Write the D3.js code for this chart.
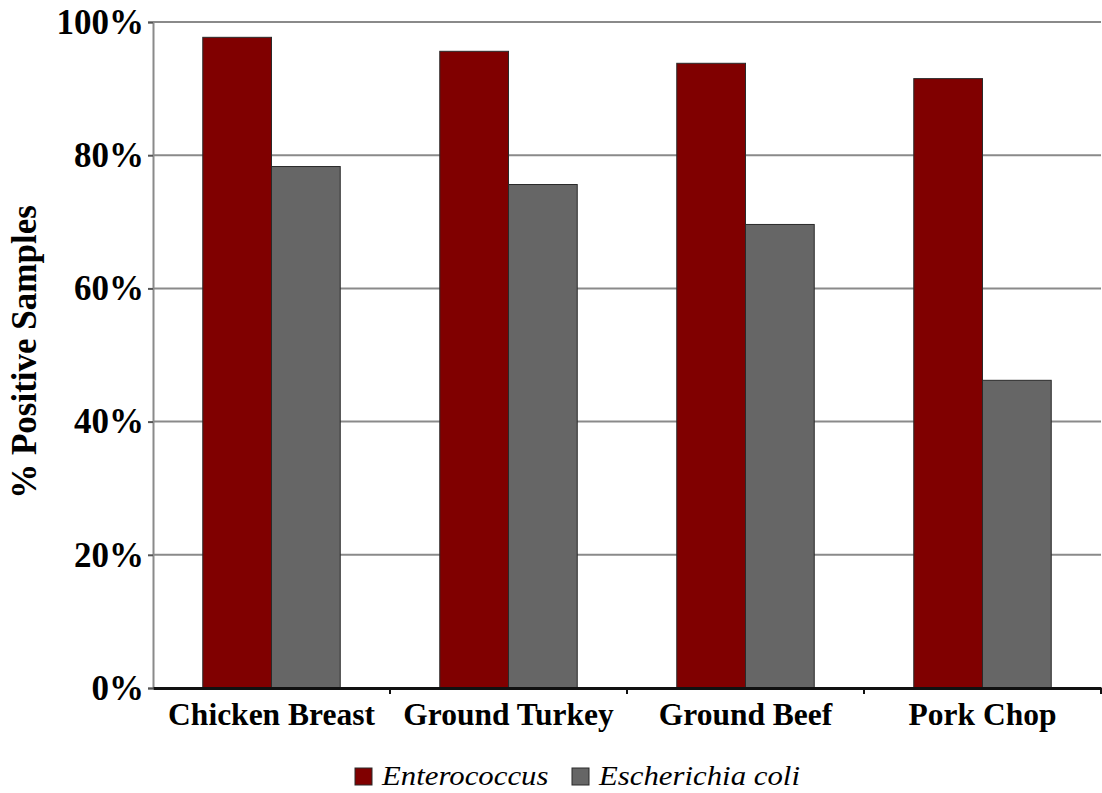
<!DOCTYPE html>
<html>
<head>
<meta charset="utf-8">
<script src="https://cdn.jsdelivr.net/npm/d3@7"></script>
<style>
  body { margin: 0; background: #fff; }
  svg { display: block; }
  text { font-family: "Liberation Serif", "Times New Roman", serif; fill: #000; }
</style>
</head>
<body>
<svg></svg>
<script>
// data
var categories = ["Chicken Breast", "Ground Turkey", "Ground Beef", "Pork Chop"]
var seriesNames = ["Enterococcus", "Escherichia coli"]
var enterococcus = [97.7, 95.6, 93.8, 91.5]
var ecoli = [78.3, 75.6, 69.6, 46.2]
var yTicks = [0, 20, 40, 60, 80, 100]
var colors = ["#800000", "#666666"]

var svg = d3.select('svg')
  .attr('width', 1102)
  .attr('height', 793)

var plotLeft = 153, plotRight = 1101, plotTop = 22, plotBottom = 688

// scales
var x = d3.scaleBand()
  .domain(categories)
  .range([plotLeft, plotRight])
  .paddingInner(0.42)
  .paddingOuter(0.21)
var x1 = d3.scaleBand()
  .domain(seriesNames)
  .range([0, x.bandwidth()])
var y = d3.scaleLinear()
  .domain([0, 100])
  .range([plotBottom, plotTop])

// gridlines
svg.append('g')
  .selectAll('line')
  .data(yTicks.filter(d => d > 0))
  .enter()
  .append('line')
  .attr('x1', plotLeft)
  .attr('x2', plotRight)
  .attr('y1', d => y(d))
  .attr('y2', d => y(d))
  .attr('stroke', '#8a8a8a')
  .attr('stroke-width', 2)

// bars
var rows = categories.map((c, i) => ({cat: c, values: [enterococcus[i], ecoli[i]]}))
svg.append('g')
  .selectAll('g')
  .data(rows)
  .enter()
  .append('g')
  .attr('transform', d => `translate(${x(d.cat)},0)`)
  .selectAll('rect')
  .data(d => d.values.map((v, j) => ({key: seriesNames[j], value: v, j: j})))
  .enter()
  .append('rect')
  .attr('x', d => x1(d.key))
  .attr('y', d => y(d.value))
  .attr('width', x1.bandwidth())
  .attr('height', d => plotBottom - y(d.value))
  .attr('fill', d => colors[d.j])
  .attr('stroke', '#2a2a2a')
  .attr('stroke-width', 1)

// y axis
var yAxis = d3.axisLeft(y)
  .tickValues(yTicks)
  .tickSize(5)
  .tickPadding(4)
  .tickFormat(d => d + '%')
var gy = svg.append('g')
  .attr('transform', `translate(${plotLeft},0)`)
  .call(yAxis)
gy.select('.domain').attr('stroke', '#8a8a8a').attr('stroke-width', 2)
gy.selectAll('.tick line').attr('stroke', '#555').attr('stroke-width', 2)
gy.selectAll('.tick text')
  .style('font-family', '"Liberation Serif", serif')
  .style('font-size', '35px')
  .style('font-weight', 'bold')
  .attr('fill', '#000')

// x axis
var xAxis = d3.axisBottom(x)
  .tickSize(0)
  .tickPadding(15)
var gx = svg.append('g')
  .attr('transform', `translate(0,${plotBottom})`)
  .call(xAxis)
gx.select('.domain').attr('stroke', '#111').attr('stroke-width', 3)
gx.selectAll('.tick text')
  .style('font-family', '"Liberation Serif", serif')
  .style('font-size', '31.5px')
  .style('font-weight', 'bold')
  .attr('fill', '#000')
  .attr('dy', '0.71em')
// category separator ticks
gx.append('g')
  .selectAll('line')
  .data(categories)
  .enter()
  .append('line')
  .attr('x1', d => x(d) + x.step() * 0.79)
  .attr('x2', d => x(d) + x.step() * 0.79)
  .attr('y1', 0)
  .attr('y2', 6)
  .attr('stroke', '#111')
  .attr('stroke-width', 2)

// y axis title
svg.append('text')
  .attr('transform', 'translate(36,352) rotate(-90)')
  .style('text-anchor', 'middle')
  .style('font-size', '35px')
  .style('font-weight', 'bold')
  .text('% Positive Samples')

// legend
var legend = svg.append('g')
  .selectAll('g')
  .data(seriesNames)
  .enter()
  .append('g')
  .attr('transform', (d, i) => `translate(${[355, 572][i]},768)`)
legend.append('rect')
  .attr('width', 17)
  .attr('height', 17)
  .attr('fill', (d, i) => colors[i])
  .attr('stroke', '#2a2a2a')
  .attr('stroke-width', 1)
legend.append('text')
  .attr('transform', 'translate(27,17) scale(1.12,1)')
  .style('font-size', '27.5px')
  .style('font-style', 'italic')
  .text(d => d)
</script>
</body>
</html>
